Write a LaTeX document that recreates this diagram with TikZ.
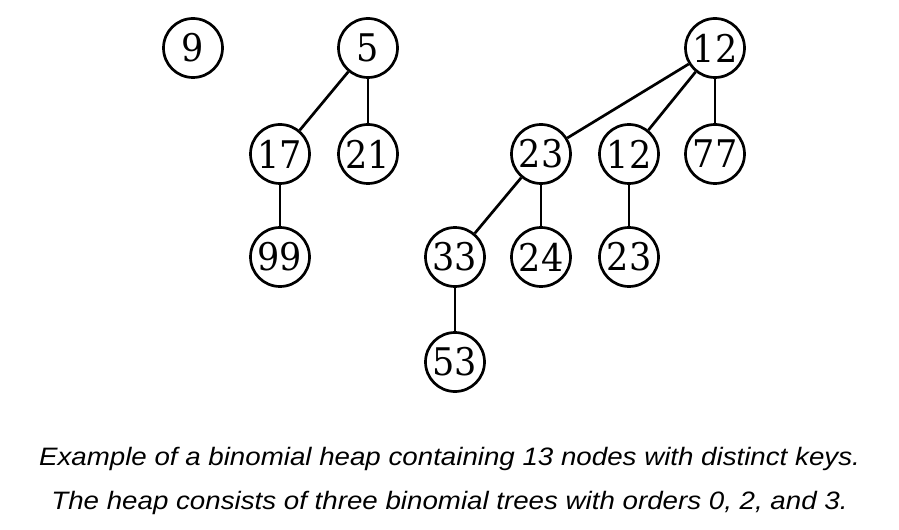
\documentclass[tikz,border=0pt]{standalone}
\usepackage{fontspec}
\setmainfont{Liberation Sans}
\newfontfamily\keyfont[FakeStretch=0.92]{DejaVu Serif}
\newfontfamily\capfont[FakeStretch=1.1]{Liberation Sans}
\usepackage{tikz}
\tikzstyle{key}=[circle,draw=black,line width=2.3pt,minimum size=1.77cm,inner sep=0pt,font=\keyfont\fontsize{32.5}{32.5}\selectfont]
\tikzstyle{simple}=[-,draw=black,line width=2.3pt]
\tikzstyle{caption}=[inner sep=0pt,anchor=base,font=\capfont\itshape\fontsize{21.5}{21.5}\selectfont]

\begin{document}
\begin{tikzpicture}
  \useasboundingbox (0, 0) rectangle (26.97, 15.87);
  % order 0
  \node [style=key] (9) at (5.79, 14.43) {9};
  % order 2
  \node [style=key] (5) at (11.04, 14.43) {5};
  \node [style=key] (17) at (8.40, 11.25) {17};
  \node [style=key] (21) at (11.04, 11.25) {21};
  \node [style=key] (99) at (8.40, 8.16) {99};
  % order 3
  \node [style=key] (12a) at (21.45, 14.43) {12};
  \node [style=key] (23a) at (16.23, 11.25) {23};
  \node [style=key] (12b) at (18.87, 11.25) {12};
  \node [style=key] (77) at (21.45, 11.25) {77};
  \node [style=key] (33) at (13.65, 8.16) {33};
  \node [style=key] (24) at (16.23, 8.16) {24};
  \node [style=key] (23b) at (18.87, 8.16) {23};
  \node [style=key] (53) at (13.65, 5.01) {53};
  \node [style=caption] (c1) at (13.485, 1.92) {Example of a binomial heap containing 13 nodes with distinct keys.};
  \node [style=caption] (c2) at (13.485, 0.60) {The heap consists of three binomial trees with orders 0, 2, and 3.};
  \draw [style=simple] (5) to (17);
  \draw [style=simple] (5) to (21);
  \draw [style=simple] (17) to (99);
  \draw [style=simple] (12a) to (23a);
  \draw [style=simple] (12a) to (12b);
  \draw [style=simple] (12a) to (77);
  \draw [style=simple] (23a) to (33);
  \draw [style=simple] (23a) to (24);
  \draw [style=simple] (12b) to (23b);
  \draw [style=simple] (33) to (53);
\end{tikzpicture}
\end{document}
